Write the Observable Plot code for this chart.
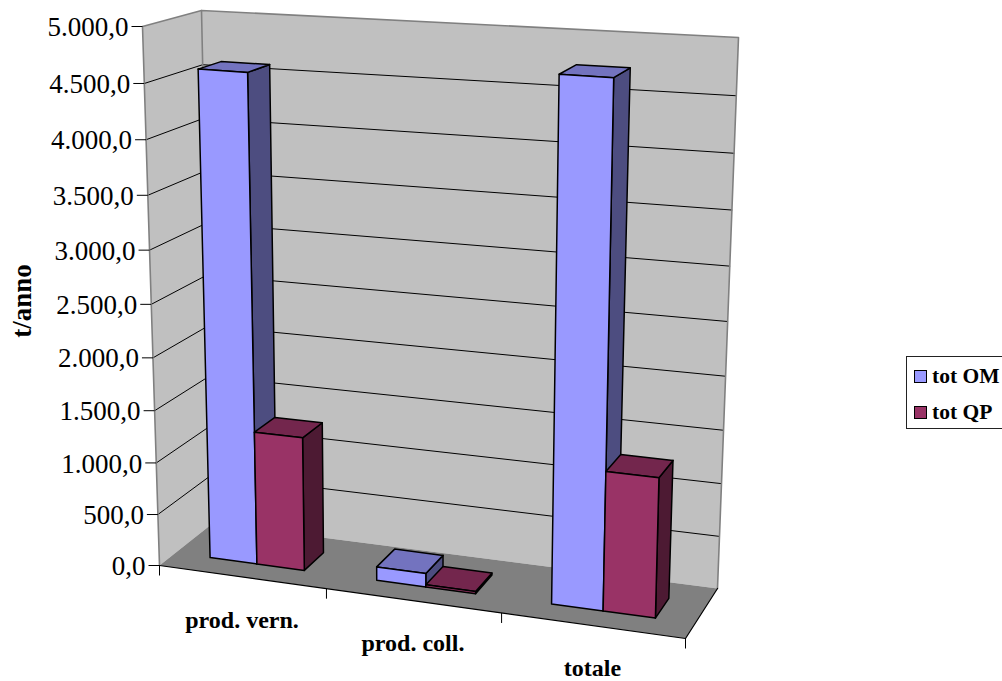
<!DOCTYPE html>
<html><head><meta charset="utf-8">
<style>
html,body{margin:0;padding:0;background:#fff;overflow:hidden;width:1002px;height:681px}
#chart{position:absolute;left:0;top:0}
#legend{position:absolute;left:906px;top:356px;width:100px;height:71px;border:1px solid #222;box-sizing:content-box;background:#fff;font:bold 21.5px "Liberation Serif",serif;color:#000}
#legend div{position:absolute;left:7px;white-space:nowrap;line-height:22px;display:flex;align-items:center}
#legend i{display:block;width:11px;height:11px;border:1.5px solid #000;margin-right:5px}
</style>
<script src="https://cdn.jsdelivr.net/npm/d3@7"></script>
<script src="https://cdn.jsdelivr.net/npm/@observablehq/plot@0.6"></script>
</head><body><div id="chart"></div><div id="legend"></div>
<script>
const categories = ["prod. vern.", "prod. coll.", "totale"];
const seriesNames = ["tot OM", "tot QP"];
const totOM = [4600, 130, 4760];
const totQP = [1285, 20, 1300];
const yTicks = [0,500,1000,1500,2000,2500,3000,3500,4000,4500,5000];
const yMax = 5000;
const serif = '"Liberation Serif", serif';
const faces = {
  "tot OM": {front:"#9999ff", top:"#7373bf", side:"#4d4d80"},
  "tot QP": {front:"#993366", top:"#73264d", side:"#4d1a33"}
};

// oblique view of the chart box
const box = {
  flb:[159,565], flt:[142,26], blb:[212,523], blt:[201,10],
  brb:[717,588], brt:[738,37], frb:[685,638], frt:[700,62]
};
const warp = (t,k) => t*(1+k)/(1+k*t);
const mix = (a,b,t) => [a[0]+(b[0]-a[0])*t, a[1]+(b[1]-a[1])*t];
function at(c, depth, value){           // c: category units, depth 0..1, value: t/anno
  const u = warp(c/categories.length,-0.07), v = warp(value/yMax,-0.06);
  const fl = mix(box.flb,box.flt,v), fr = mix(box.frb,box.frt,v);
  const bl = mix(box.blb,box.blt,v), br = mix(box.brb,box.brt,v);
  return mix(mix(fl,fr,u), mix(bl,br,u), depth);
}
const poly = (id,fill,pts) => [...pts,pts[0]].map(p=>({id,fill,x:p[0],y:p[1]}));

const nC = categories.length;
const walls = [
  ...poly("left","#c0c0c0",[at(0,0,0),at(0,0,yMax),at(0,1,yMax),at(0,1,0)]),
  ...poly("back","#c0c0c0",[at(0,1,0),at(0,1,yMax),at(nC,1,yMax),at(nC,1,0)])
];
const floor = poly("floor","#808080",[at(0,0,0),at(nC,0,0),at(nC,1,0),at(0,1,0)]);
const grid = yTicks.filter(t=>t>0&&t<yMax).flatMap(t=>
  [at(0,0,t),at(0,1,t),at(nC,1,t)].map(p=>({id:t,x:p[0],y:p[1]})));
const wallEdges = [at(0,0,0),at(0,0,yMax),at(0,1,yMax),at(nC,1,yMax),at(nC,1,0)].map(p=>({x:p[0],y:p[1]}));
const wallEdge2 = [at(0,1,yMax),at(0,1,0)].map(p=>({x:p[0],y:p[1]}));
const frontEdge = [at(0,0,0),at(nC,0,0),at(nC,1,0)].map(p=>({x:p[0],y:p[1]}));

// bars: gap width 150%, gap depth 150%
const barW = 1/3.5, gapL = 0.75*barW, d0 = 0.3, d1 = 0.7;
const bars = [];
categories.forEach((cat,i)=>{
  [totOM[i],totQP[i]].forEach((val,s)=>{
    const name = seriesNames[s], f = faces[name];
    const a = i+gapL+s*barW, b = a+barW, key = cat+name;
    bars.push(...poly(key+"side",f.side,[at(b,d0,0),at(b,d0,val),at(b,d1,val),at(b,d1,0)]));
    bars.push(...poly(key+"top",f.top,[at(a,d0,val),at(b,d0,val),at(b,d1,val),at(a,d1,val)]));
    bars.push(...poly(key+"front",f.front,[at(a,d0,0),at(a,d0,val),at(b,d0,val),at(b,d0,0)]));
  });
});

const yLab = d3.formatLocale({decimal:",",thousands:".",grouping:[3],currency:["",""]}).format(",.1f");
const yAxis = yTicks.map(t=>{const p=at(0,0,t);return {t,x:p[0],y:p[1]};});
const xAxis = d3.range(nC+1).map(c=>{const p=at(c,0,0);return {x:p[0],y:p[1]};});
const xLabels = categories.map((c,i)=>{const p=at(i+0.5,0,0);return {c,x:p[0],y:p[1]};});

const plot = Plot.plot({
  width:1002,height:681,margin:0,
  x:{domain:[0,1002],range:[0,1002],axis:null},
  y:{domain:[0,681],range:[0,681],axis:null},
  color:{type:"identity"},
  style:{background:"#fff"},
  marks:[
    Plot.line(walls,{x:"x",y:"y",z:"id",fill:"fill",stroke:"none",curve:"linear"}),
    Plot.line(floor,{x:"x",y:"y",z:"id",fill:"fill",stroke:"none",curve:"linear"}),
    Plot.line(grid,{x:"x",y:"y",z:"id",stroke:"#000",strokeWidth:1,curve:"linear"}),
    Plot.line(wallEdges,{x:"x",y:"y",stroke:"#808080",strokeWidth:1.6,curve:"linear"}),
    Plot.line(wallEdge2,{x:"x",y:"y",stroke:"#808080",strokeWidth:1.6,curve:"linear"}),
    Plot.line(frontEdge,{x:"x",y:"y",stroke:"#000",strokeWidth:1.2,curve:"linear"}),
    Plot.line(bars,{x:"x",y:"y",z:"id",fill:"fill",stroke:"#000",strokeWidth:1.5,curve:"linear",strokeLinejoin:"round"}),
    Plot.link(yAxis,{x1:d=>d.x-11,x2:"x",y1:"y",y2:"y",stroke:"#000",strokeWidth:1}),
    Plot.link(xAxis,{x1:"x",x2:"x",y1:"y",y2:d=>d.y+10,stroke:"#000",strokeWidth:1}),
    Plot.text(yAxis,{x:"x",y:"y",dx:-14,dy:1,text:d=>yLab(d.t),textAnchor:"end",fontFamily:serif,fontSize:27,fill:"#000"}),
    Plot.text(xLabels,{x:"x",y:"y",dy:43,text:"c",fontFamily:serif,fontSize:24,fontWeight:"bold",fill:"#000"}),
    Plot.text(["t/anno"],{frameAnchor:"left",textAnchor:"middle",dx:22,dy:-40,rotate:-90,fontFamily:serif,fontSize:27,fontWeight:"bold",fill:"#000"})
  ]
});
document.getElementById("chart").append(plot);
const lg = document.getElementById("legend");
seriesNames.forEach((n,i)=>{
  const r=document.createElement("div");
  r.style.top=(8+i*36)+"px";
  const sw=document.createElement("i"); sw.style.background=faces[n].front;
  r.append(sw,n); lg.append(r);
});
</script></body></html>
